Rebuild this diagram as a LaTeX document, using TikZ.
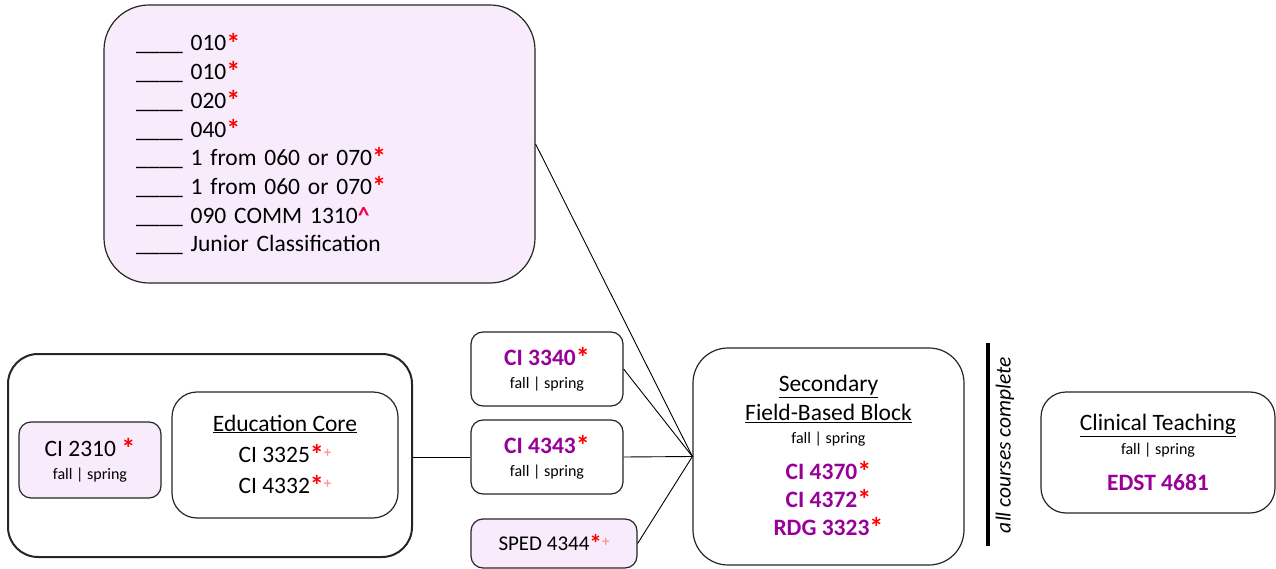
\documentclass[tikz,border=0pt]{standalone}
\usepackage{fontspec}
\setmainfont{Carlito}
\usepackage{xcolor}
\usepackage{graphicx}
\definecolor{lav}{HTML}{F8ECFC}
\definecolor{purp}{HTML}{990099}
\definecolor{ast}{HTML}{FF0000}
\definecolor{plusc}{HTML}{FF9999}
\definecolor{caret}{HTML}{F0004C}
\newcommand{\rast}{\textcolor{ast}{\raisebox{-0.09em}{\textbf{\scalebox{1.2}{*}}}}}
\newcommand{\rplus}{\textcolor{plusc}{\raisebox{0.45ex}{\fontsize{15}{15}\selectfont\textbf{+}}}}
\newcommand{\fs}{{\fontsize{16}{18}\selectfont fall | spring}}
\newcommand{\bp}[1]{{\bfseries\color{purp}#1}}
\begin{document}
\begin{tikzpicture}[x=1pt,y=-1pt,
  box/.style={draw=black!85, line width=1.2pt, inner sep=0pt, align=center,
              font=\fontsize{23.5}{28}\selectfont},
  conn/.style={draw=black, line width=0.9pt}]
\clip (0,0) rectangle (1276,569);
\fill[white] (0,0) rectangle (1276,569);

% prerequisite list
\node[box, fill=lav, rounded corners=45pt, minimum width=431pt, minimum height=278pt,
      text width=367pt, inner xsep=32pt, align=left,
      font=\fontsize{23.5}{28.7}\selectfont] (pre) at (319.5,144)
 {\_\_\_\_ 010\rast\\
  \_\_\_\_ 010\rast\\
  \_\_\_\_ 020\rast\\
  \_\_\_\_ 040\rast\\
  \_\_\_\_ 1 from 060 or 070\rast\\
  \_\_\_\_ 1 from 060 or 070\rast\\
  \_\_\_\_ 090 COMM 1310\textcolor{caret}{\textbf{\textasciicircum}}\\
  \_\_\_\_ Junior Classification};

% outer left container
\node[box, line width=2pt, rounded corners=30pt, minimum width=404pt, minimum height=203pt] (outer) at (210,455.5) {};

\node[box, fill=lav, rounded corners=12pt, minimum width=142pt, minimum height=76pt] (ci2310) at (90,460)
 {CI 2310 \rast\\[-5pt]\fs};

\node[box, rounded corners=25pt, minimum width=226pt, minimum height=126pt,
      font=\fontsize{23.5}{31}\selectfont] (core) at (285,455)
 {\underline{Education Core}\\CI 3325\rast\rplus\\CI 4332\rast\rplus};

% middle column
\node[box, rounded corners=12pt, minimum width=152pt, minimum height=74pt] (ci3340) at (547,369)
 {\bp{CI 3340\rast}\\[-5pt]\fs};
\node[box, rounded corners=12pt, minimum width=152pt, minimum height=74pt] (ci4343) at (547,457)
 {\bp{CI 4343\rast}\\[-5pt]\fs};
\node[box, fill=lav, rounded corners=12pt, minimum width=166pt, minimum height=49pt,
      font=\fontsize{21}{24}\selectfont] (sped) at (554,543.5)
 {SPED 4344\rast\rplus};

% secondary block
\node[box, rounded corners=35pt, minimum width=271pt, minimum height=217pt] (block) at (828.5,456.5)
 {\underline{Secondary}\\[1pt]
  \underline{Field-Based Block}\\[-5pt]
  \fs\\[8pt]
  \bp{CI 4370\rast}\\
  \bp{CI 4372\rast}\\
  \bp{RDG 3323\rast}};

% bar and rotated label
\coordinate (bartop) at (987.5,343);
\coordinate (barbot) at (987.5,546);
\draw[line width=4pt] (bartop) -- (barbot);
\node[rotate=90, font=\fontsize{21.5}{24}\selectfont\itshape, inner sep=0pt] (allc) at (1005,445) {all courses complete};

% clinical teaching
\node[box, rounded corners=25pt, minimum width=234pt, minimum height=121pt] (clin) at (1158,452.5)
 {\underline{Clinical Teaching}\\[-4pt]
  \fs\\[8pt]
  \bp{EDST 4681}};

% connectors
\draw[conn] (outer.east |- ci4343.west) -- (ci4343.west);
\draw[conn] (pre.east) -- (block.west);
\draw[conn] (ci3340.east) -- (block.west);
\draw[conn] (ci4343.east) -- (block.west);
\draw[conn] (sped.east) -- (block.west);
\end{tikzpicture}
\end{document}
